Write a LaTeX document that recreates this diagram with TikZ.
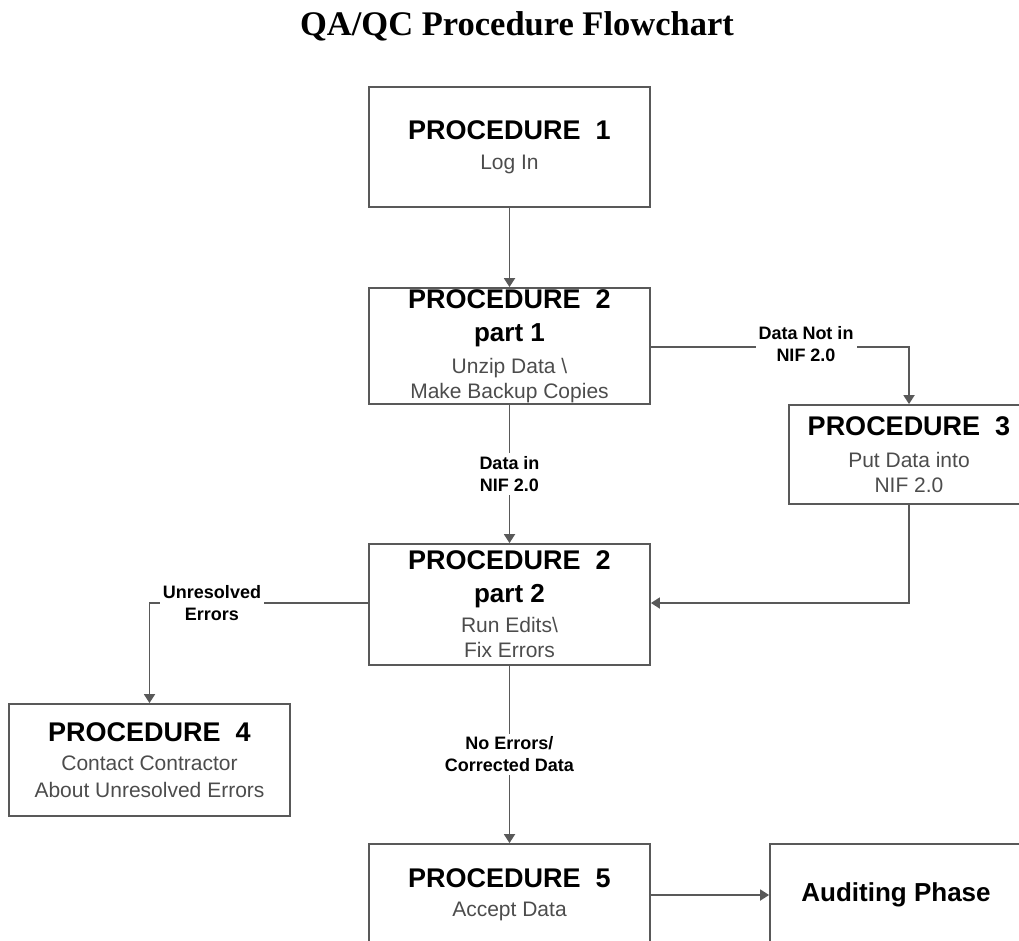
\documentclass[tikz,border=0pt]{standalone}
\usepackage{fontspec}
\setmainfont{Liberation Sans}
\newfontfamily\titlefont{Liberation Serif}
\usetikzlibrary{arrows.meta}
\tikzset{
  box/.style={draw=black!65, line width=1.8pt, rectangle, minimum width=281pt, align=center, inner sep=0pt,
    font=\fontsize{21}{25}\selectfont},
  conn/.style={draw=black!65, line width=1.8pt},
  arr/.style={conn, -{Triangle[width=11pt,length=9pt]}},
  lab/.style={fill=white, font=\fontsize{18}{22}\selectfont\bfseries, align=center, inner sep=3pt, text=black},
}
\newcommand\hd[1]{{\fontsize{27}{25}\selectfont\bfseries #1}}
\newcommand\pth[1]{{\fontsize{26}{25}\selectfont\bfseries #1}}
\newcommand\sbt[1]{{\color{black!70}#1}}
\begin{document}
\begin{tikzpicture}[x=1pt,y=-1pt]
\useasboundingbox (0,0) rectangle (1019,941);
\node[anchor=base, inner sep=0pt] (title) at (517,36) {\titlefont\bfseries\fontsize{34.5}{36}\selectfont QA/QC Procedure Flowchart};

\node[box, minimum height=120pt] (p1) at (509.5,147) {\hd{PROCEDURE\ \ 1}\\[5pt]\sbt{Log In}};
\node[box, minimum height=116pt] (p2a) at (509.5,346) {\hd{PROCEDURE\ \ 2}\\[8pt]\pth{part 1}\\[7pt]\sbt{Unzip Data \textbackslash}\\\sbt{Make Backup Copies}};
\node[box, minimum width=240pt, minimum height=99pt] (p3) at (909,454.5) {\hd{PROCEDURE\ \ 3}\\[7pt]\sbt{Put Data into}\\\sbt{NIF 2.0}};
\node[box, minimum height=121pt] (p2b) at (509.5,604.5) {\hd{PROCEDURE\ \ 2}\\[8pt]\pth{part 2}\\[5pt]\sbt{Run Edits\textbackslash}\\\sbt{Fix Errors}};
\node[box, minimum height=112pt] (p4) at (149.5,760) {\hd{PROCEDURE\ \ 4}\\[4pt]\sbt{Contact Contractor}\\[2pt]\sbt{About Unresolved Errors}};
\node[box, minimum height=102pt] (p5) at (509.5,895) {\hd{PROCEDURE\ \ 5}\\[4pt]\sbt{Accept Data}};
\node[box, minimum width=252pt, minimum height=102pt] (aud) at (896,895) {\fontsize{26}{25}\selectfont\bfseries Auditing Phase};

\coordinate (c3) at (909,347);
\coordinate (c4) at (909,603);
\coordinate (c5) at (149.5,603);

\draw[arr] (p1) -- (p2a);
\draw[arr] (p2a.east |- c3) -- (c3) -- (p3.north);
\node[lab] (l3) at (806,344) {Data Not in\\NIF 2.0};
\draw[arr] (p2a) -- node[lab] (l2) {Data in\\NIF 2.0} (p2b);
\draw[arr] (p3.south) -- (c4) -- (p2b.east |- c4);
\draw[arr] (p2b.west |- c5) -- (c5) -- (p4.north);
\node[lab] (l5) at (212,603) {Unresolved\\Errors};
\draw[arr] (p2b) -- node[lab] (l6) {No Errors/\\Corrected Data} (p5);
\draw[arr] (p5) -- (aud);
\end{tikzpicture}
\end{document}
